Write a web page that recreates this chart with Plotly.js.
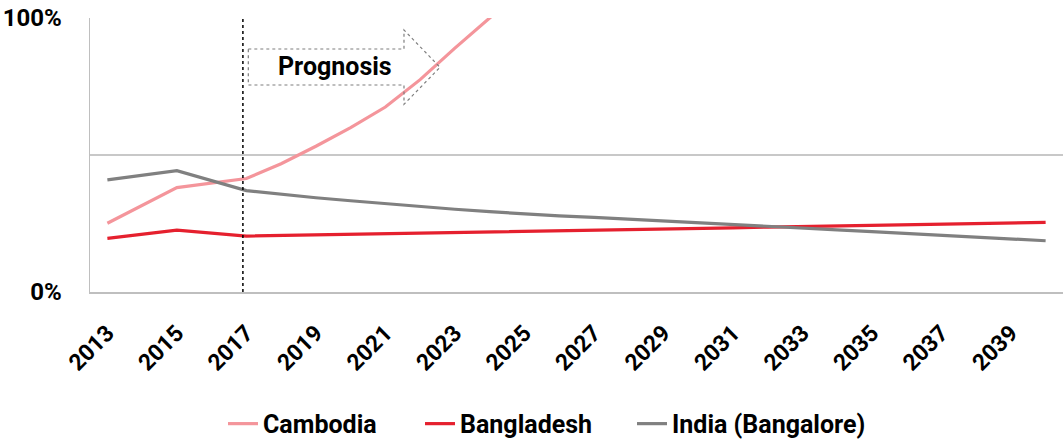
<!DOCTYPE html>
<html>
<head>
<meta charset="utf-8">
<script src="https://cdn.plot.ly/plotly-3.0.1.min.js"></script>
<style>
html,body{margin:0;padding:0;background:#fff;}
#chart{width:1063px;height:442px;}
</style>
</head>
<body>
<div id="chart"></div>
<script>
// Years with observed / projected values (2014 and 2016 not reported)
const years = [2013, 2015, 2017, 2018, 2019, 2020, 2021, 2022, 2023, 2024, 2025, 2026, 2027, 2028, 2029, 2030, 2031, 2032, 2033, 2034, 2035, 2036, 2037, 2038, 2039, 2040];
const cambodiaYears = [2013, 2015, 2017, 2018, 2019, 2020, 2021, 2022, 2023, 2024, 2025];
const cambodia = [25.1, 38.1, 41.4, 46.8, 53.2, 60.0, 67.5, 77.5, 89.0, 99.8, 111.0];
const bangladesh = [19.6, 22.6, 20.4, 20.6, 20.8, 21.1, 21.3, 21.5, 21.7, 21.9, 22.1, 22.4, 22.6, 22.8, 23.0, 23.2, 23.4, 23.7, 23.9, 24.1, 24.3, 24.5, 24.7, 25.0, 25.2, 25.4];
const india = [40.9, 44.3, 37.0, 35.6, 34.4, 33.3, 32.2, 31.2, 30.2, 29.3, 28.5, 27.8, 27.2, 26.6, 26.0, 25.3, 24.6, 24.0, 23.4, 22.7, 22.0, 21.3, 20.6, 20.0, 19.4, 18.7];
const seriesNames = ["Cambodia", "Bangladesh", "India (Bangalore)"];
const seriesColors = ["#f4959b", "#e5202e", "#808080"];
const tickYears = [2013, 2015, 2017, 2019, 2021, 2023, 2025, 2027, 2029, 2031, 2033, 2035, 2037, 2039];
const yTickVals = [0, 50, 100];
const yTickText = ["0%", "", "100%"];
const prognosisYear = 2016.9;
const annotationText = "Prognosis";

const FONT = "Roboto, 'Open Sans', sans-serif";
const legendWidths = [152, 167, 200];

const traces = [
  {x: cambodiaYears, y: cambodia, name: seriesNames[0]},
  {x: years, y: bangladesh, name: seriesNames[1]},
  {x: years, y: india, name: seriesNames[2]}
].map((t, i) => Object.assign(t, {
  type: "scatter", mode: "lines",
  line: {color: seriesColors[i], width: 3.2},
  legendwidth: legendWidths[i],
  hoverinfo: "skip"
}));

const layout = {
  width: 1063, height: 442,
  margin: {l: 90, r: 0, t: 18, b: 150, autoexpand: false},
  paper_bgcolor: "#fff", plot_bgcolor: "#fff",
  font: {family: FONT, color: "#000"},
  showlegend: true,
  legend: {
    orientation: "h", x: 0.1367, xanchor: "left",
    yref: "container", y: 0.041, yanchor: "middle",
    font: {family: FONT, size: 25, weight: 700, color: "#000"}
  },
  xaxis: {
    range: [2012.5, 2040.5],
    tickmode: "array", tickvals: tickYears, ticktext: tickYears.map(String),
    tickangle: -45, ticks: "",
    tickfont: {family: FONT, size: 23, weight: 700, color: "#000"},
    showgrid: false, zeroline: false,
    showline: true, linecolor: "#bfbfbf", linewidth: 1.5,
    ticklabelstandoff: 17,
    automargin: false,
    fixedrange: true
  },
  yaxis: {
    range: [0, 100],
    tickmode: "array", tickvals: yTickVals, ticktext: yTickText,
    ticks: "",
    tickfont: {family: FONT, size: 24, weight: 700, color: "#000"},
    showgrid: true, gridcolor: "#c8c8c8", gridwidth: 1.5,
    zeroline: false,
    showline: true, linecolor: "#bfbfbf", linewidth: 1.5,
    ticklabelstandoff: 22,
    automargin: false,
    fixedrange: true
  },
  shapes: [
    {type: "line", xref: "x", yref: "paper", x0: prognosisYear, x1: prognosisYear, y0: 0, y1: 1,
     line: {color: "#000", width: 1.5, dash: "dot"}},
    {type: "path", xref: "paper", yref: "paper",
     path: "M 0.1627 0.8869 L 0.3227 0.8869 L 0.3227 0.9562 L 0.3597 0.820 L 0.3227 0.685 L 0.3227 0.7555 L 0.1627 0.7555 Z",
     line: {color: "#7f7f7f", width: 1.2, dash: "dot"}, fillcolor: "rgba(0,0,0,0)"}
  ],
  annotations: [
    {xref: "paper", yref: "paper", x: 0.2523, y: 0.8212, text: annotationText, showarrow: false,
     xanchor: "center", yanchor: "middle",
     font: {family: FONT, size: 25, weight: 700, color: "#000"}}
  ]
};

Plotly.newPlot("chart", traces, layout, {displayModeBar: false, staticPlot: true});
</script>
</body>
</html>
